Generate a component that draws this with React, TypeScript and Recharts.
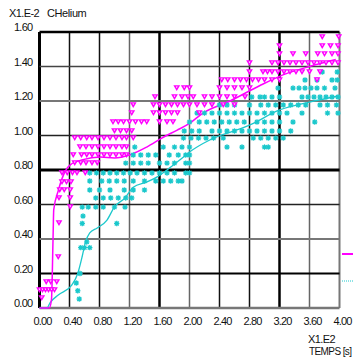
import { ComposedChart, Scatter, Line, XAxis, YAxis, ReferenceLine } from 'recharts'

const MAGENTA = '#ff00ff'
const CYAN = '#1cc8cc'

const xTicks = [0, 0.4, 0.8, 1.2, 1.6, 2.0, 2.4, 2.8, 3.2, 3.6, 4.0]
const yTicks = [0, 0.2, 0.4, 0.6, 0.8, 1.0, 1.2, 1.4, 1.6]

// magenta measurements, grouped by row: [y, x values]
const magentaRows: [number, number[]][] = [
  [1.571, [3.77, 3.99]],
  [1.519, [3.2, 3.77, 3.88, 3.98]],
  [1.472, [3.2, 3.38, 3.55, 3.71, 3.8, 3.9, 3.98]],
  [1.42, [2.8, 3.1, 3.18, 3.26, 3.34, 3.42, 3.5, 3.58, 3.66, 3.74, 3.82, 3.9, 3.98]],
  [1.368, [2.8, 2.98, 3.04, 3.1, 3.18, 3.26, 3.34, 3.42, 3.5, 3.6, 3.74]],
  [1.322, [2.43, 2.51, 2.6, 2.68, 2.76, 2.84, 2.92, 3.0, 3.1, 3.2, 3.7]],
  [1.275, [1.83, 1.93, 2.0, 2.4, 2.5, 2.6, 2.7, 2.8]],
  [1.223, [1.54, 1.8, 1.9, 1.98, 2.05, 2.2, 2.3, 2.4, 2.5, 2.6, 2.74]],
  [1.177, [1.25, 1.52, 1.6, 1.68, 1.76, 1.84, 1.92, 2.0, 2.1, 2.2, 2.3, 2.45, 2.6]],
  [1.13, [1.23, 1.52, 1.6, 1.68, 1.76, 1.84, 2.13]],
  [1.078, [0.98, 1.05, 1.12, 1.2, 1.28, 1.36, 1.43, 1.6, 1.7, 1.78]],
  [1.026, [1.0, 1.08, 1.16, 1.23]],
  [0.985, [0.47, 0.55, 0.63, 0.7, 0.78, 0.86, 0.94, 1.02, 1.1, 1.16, 1.25]],
  [0.933, [0.54, 0.62, 0.7, 0.78, 0.86, 0.94, 1.02, 1.1, 1.16]],
  [0.887, [0.45, 0.56, 0.63, 0.7, 0.78, 0.86, 0.94, 1.02, 1.1, 1.16]],
  [0.841, [0.47, 0.55, 0.62, 0.7, 0.77]],
  [0.783, [0.3, 0.37, 0.44, 0.5, 0.61]],
  [0.73, [0.3, 0.36, 0.42]],
  [0.684, [0.27, 0.33, 0.41]],
  [0.638, [0.26, 0.41]],
  [0.585, [0.41]],
  [0.493, [0.26]],
  [0.296, [0.25]],
  [0.151, [0.09, 0.15, 0.23]],
  [0.104, [0.0, 0.04, 0.08, 0.12, 0.16, 0.2]],
  [0.058, [0.03]],
]

const cyanRows: [number, number[]][] = [
  [1.368, [3.77, 3.97]],
  [1.322, [3.54, 3.7, 3.9, 3.97]],
  [1.275, [3.18, 3.38, 3.46, 3.54, 3.62, 3.7, 3.8, 3.94]],
  [1.223, [2.83, 2.94, 3.0, 3.1, 3.2, 3.5, 3.58, 3.66, 3.74, 3.82, 3.9, 3.98]],
  [1.177, [2.4, 2.5, 2.6, 2.8, 2.95, 3.05, 3.15, 3.25, 3.35, 3.45, 3.55, 3.74, 3.84, 3.96]],
  [1.13, [2.1, 2.2, 2.3, 2.4, 2.5, 2.6, 2.7, 2.8, 2.9, 3.0, 3.1, 3.2, 3.3, 3.5, 3.84, 3.98]],
  [1.078, [2.0, 2.13, 2.23, 2.33, 2.43, 2.53, 2.63, 2.73, 2.9, 3.0, 3.1, 3.2, 3.38, 3.67]],
  [1.026, [1.93, 2.03, 2.13, 2.3, 2.4, 2.5, 2.6, 2.7, 2.8, 2.9, 3.0, 3.1, 3.2, 3.35]],
  [0.985, [1.92, 2.02, 2.12, 2.22, 2.32, 2.45, 2.85, 2.95, 3.05, 3.15, 3.25]],
  [0.933, [1.27, 1.65, 1.8, 1.9, 2.0, 2.5, 2.7, 3.0, 3.05]],
  [0.887, [1.25, 1.35, 1.45, 1.55, 1.73, 1.85, 1.95, 2.0]],
  [0.84, [1.15, 1.25, 1.35, 1.45, 1.6, 1.7, 1.8, 1.95, 2.0]],
  [0.783, [0.67, 0.76, 0.85, 0.94, 1.03, 1.12, 1.21, 1.3, 1.4, 1.5, 1.6, 1.7, 1.8, 1.95, 2.0]],
  [0.736, [0.67, 0.83, 0.93, 1.03, 1.13, 1.25, 1.4, 1.55, 1.65, 1.75, 1.85, 1.9]],
  [0.684, [0.67, 0.8, 0.94, 1.13, 1.25, 1.4]],
  [0.638, [0.75, 0.85, 0.95, 1.05, 1.15, 1.23]],
  [0.585, [0.57, 0.65, 0.75, 0.85, 1.0, 1.14]],
  [0.533, [0.58]],
  [0.49, [0.57, 1.03]],
  [0.383, [0.63]],
  [0.35, [0.55, 0.6, 0.67]],
  [0.2, [0.54]],
  [0.145, [0.49]],
  [0.1, [0.51]],
  [0.052, [0.53]],
]

// fitted curves
const magentaCurve = [
  [0, 0], [0.13, 0], [0.16, 0.05], [0.18, 0.39], [0.19, 0.57], [0.25, 0.68], [0.3, 0.75],
  [0.41, 0.83], [0.58, 0.86], [0.81, 0.875], [1.0, 0.87], [1.2, 0.887], [1.43, 0.933],
  [1.65, 0.99], [1.83, 1.03], [2.0, 1.07], [2.18, 1.13], [2.54, 1.2], [2.94, 1.29],
  [3.3, 1.36], [3.6, 1.4], [3.95, 1.44],
]
const cyanCurve = [
  [0, 0], [0.1, 0], [0.14, 0.03], [0.25, 0.075], [0.43, 0.133], [0.51, 0.2], [0.57, 0.3],
  [0.61, 0.377], [0.67, 0.435], [0.77, 0.464], [0.9, 0.51], [1.0, 0.586], [1.14, 0.638],
  [1.25, 0.7], [1.43, 0.73], [1.57, 0.76], [1.7, 0.8], [1.87, 0.858], [2.0, 0.904],
  [2.27, 0.974], [2.63, 1.032], [2.8, 1.06], [3.2, 1.148], [3.6, 1.194], [3.99, 1.229],
]

const toPts = (rows: [number, number[]][]) => rows.flatMap(([y, xs]) => xs.map((x) => ({ x, y })))
const toLine = (c: number[][]) => c.map(([x, y]) => ({ x, y }))

// grid line looks (dark / grey, thick / thin)
const xGridStyle = [
  ['#000', 3], ['#111', 1.5], ['#111', 1.5], ['#666', 1.5], ['#000', 2.5], ['#666', 1.5],
  ['#111', 1.5], ['#111', 1.5], ['#000', 2.5], ['#666', 1.5], ['#777', 2],
] as const
const yGridStyle = [
  ['#777', 2.5], ['#000', 2], ['#777', 2], ['#222', 1.5], ['#000', 3], ['#222', 1.5],
  ['#777', 2], ['#444', 1.5], ['#000', 2.5],
] as const

const font = '"Liberation Sans", Arial, sans-serif'

const Tri = (p: any) => {
  const { cx, cy } = p
  return (
    <g>
      <polygon points={`${cx - 3.4},${cy - 2.8} ${cx + 3.4},${cy - 2.8} ${cx},${cy + 3}`} fill={MAGENTA} />
      <polygon points={`${cx - 0.9},${cy - 1.5} ${cx + 0.9},${cy - 1.5} ${cx},${cy + 0.1}`} fill="#fff" />
    </g>
  )
}

const Star = (p: any) => {
  const { cx, cy } = p
  const r = 2.7
  return (
    <g stroke={CYAN} strokeWidth={1.2}>
      <circle cx={cx} cy={cy} r={1.9} fill={CYAN} stroke="none" />
      <line x1={cx - r} y1={cy} x2={cx + r} y2={cy} />
      <line x1={cx} y1={cy - r} x2={cx} y2={cy + r} />
      <line x1={cx - 2} y1={cy - 2} x2={cx + 2} y2={cy + 2} />
      <line x1={cx - 2} y1={cy + 2} x2={cx + 2} y2={cy - 2} />
    </g>
  )
}

const YTick = ({ x, y, payload }: any) => (
  <text x={x} y={y - 1} textAnchor="end" fontSize={11} fill="#111" fontFamily={font} letterSpacing={-0.7}>
    {payload.value.toFixed(2)}
  </text>
)
const XTick = ({ x, y, payload }: any) => (
  <text x={x + 3} y={y + 17} textAnchor="middle" fontSize={11} fill="#111" fontFamily={font} letterSpacing={-0.9}>
    {payload.value.toFixed(2)}
  </text>
)

export default function App() {
  return (
    <div style={{ position: 'absolute', left: 0, top: 0, width: 353, height: 359, background: '#fff' }}>
      <ComposedChart width={353} height={359} margin={{ top: 32, right: 13.5, bottom: 31, left: 3.5 }}>
        <XAxis type="number" dataKey="x" domain={[0, 4]} ticks={xTicks} axisLine={false} tickLine={false}
          tickSize={0} tickMargin={0} height={20} tick={<XTick />} interval={0} />
        <YAxis type="number" domain={[0, 1.6]} ticks={yTicks} axisLine={false} tickLine={false}
          tickSize={0} tickMargin={7} width={36} tick={<YTick />} interval={0} />
        {xTicks.map((v, i) => (
          <ReferenceLine key={'x' + i} x={v} stroke={xGridStyle[i][0]} strokeWidth={xGridStyle[i][1]} />
        ))}
        {yTicks.map((v, i) => (
          <ReferenceLine key={'y' + i} y={v} stroke={yGridStyle[i][0]} strokeWidth={yGridStyle[i][1]} />
        ))}
        <Scatter data={toPts(cyanRows)} dataKey="y" shape={<Star />} isAnimationActive={false} />
        <Scatter data={toPts(magentaRows)} dataKey="y" shape={<Tri />} isAnimationActive={false} />
        <Line data={toLine(cyanCurve)} dataKey="y" type="monotone" stroke={CYAN} strokeWidth={1.3}
          dot={false} activeDot={false} isAnimationActive={false} />
        <Line data={toLine(magentaCurve)} dataKey="y" type="monotone" stroke={MAGENTA} strokeWidth={1.5}
          dot={false} activeDot={false} isAnimationActive={false} />
      </ComposedChart>
      <svg width={353} height={359} style={{ position: 'absolute', left: 0, top: 0, pointerEvents: 'none' }}>
        <g fontFamily={font} fontSize={11} fill="#111">
          <text x={9} y={17} letterSpacing={-0.6}>X1.E-2</text>
          <text x={47} y={17} letterSpacing={-0.4}>CHelium</text>
          <text x={308} y={343} letterSpacing={-0.6}>X1.E2</text>
          <text x={309} y={355} fontSize={10} letterSpacing={-0.6}>TEMPS [s]</text>
        </g>
        <line x1={342} y1={254} x2={353} y2={254} stroke={MAGENTA} strokeWidth={2} />
        <line x1={342} y1={281} x2={353} y2={281} stroke={CYAN} strokeWidth={1} strokeDasharray="1 1" />
      </svg>
    </div>
  )
}
